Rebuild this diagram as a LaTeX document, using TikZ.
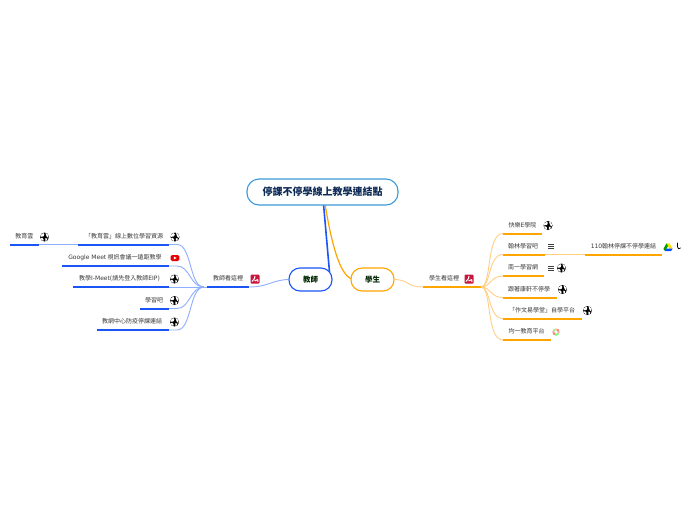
\documentclass[tikz,border=0pt]{standalone}
\usepackage{fontspec}
\setmainfont{Noto Sans CJK TC}
\newfontfamily\latinf{DejaVu Sans}
\definecolor{tblue}{HTML}{1A55F5}
\definecolor{tlight}{HTML}{8FAEFF}
\definecolor{sorange}{HTML}{FFA500}
\definecolor{slight}{HTML}{FFCF85}
\definecolor{rootblue}{HTML}{3A9AD9}
\definecolor{rootink}{HTML}{0E2A55}
\definecolor{iconred}{HTML}{C8173C}
\tikzset{
  lbl/.style={inner sep=0pt,font=\fontsize{6}{7}\selectfont,text=black!78},
  rootbox/.style={draw=rootblue,line width=1.1pt,rounded corners=12pt,fill=white,inner sep=0pt,minimum width=151pt,minimum height=26pt,font=\fontsize{10}{12}\selectfont\bfseries,text=rootink},
  mainbox/.style={line width=1.1pt,rounded corners=11pt,fill=white,inner sep=0pt,minimum width=43pt,minimum height=23pt,font=\fontsize{7.5}{9}\selectfont\bfseries,text=black!75!green!60!black},
  tline/.style={tblue,line width=2pt},
  sline/.style={sorange,line width=2pt},
  tcurve/.style={tlight,line width=.9pt},
  scurve/.style={slight,line width=.9pt},
  globe/.pic={
    \fill[black] (0,0) circle (4.5);
    \fill[white] (-3.9,-2) -- (-1.2,-3.9) -- (-.2,-2.6) -- (-1,-.6) -- (-3.9,-.2) -- cycle;
    \fill[white] (1,-3.9) -- (2.8,-3.2) -- (3.9,-1) -- (3.9,1) -- (2.2,-.4) -- cycle;
    \fill[white] (-3.9,1) -- (-2.2,.8) -- (-.9,2.4) -- (-1.2,3.9) -- (-3,2.8) -- cycle;
    \fill[white] (.9,1.2) -- (2.8,1.4) -- (2.4,3.2) -- (1,3.8) -- cycle;
  },
  redicon/.pic={
    \fill[iconred,rounded corners=1pt] (-4.5,-4.5) rectangle (4.5,4.5);
    \draw[white,line width=1pt] (-3,2.5) -- (-.5,-.5) -- (0,-3);
    \draw[white,line width=1pt] (-.5,2) -- (2.7,.6) -- (2.9,3);
  },
  yticon/.pic={
    \fill[red!90!black,rounded corners=1.5pt] (-4.3,-3) rectangle (4.3,3);
    \fill[white] (-1.2,-1.5) -- (1.6,0) -- (-1.2,1.5) -- cycle;
  },
  menuicon/.pic={
    \draw[black!75,line width=.55pt] (-3,-2.2) -- (3,-2.2) (-3,0) -- (3,0) (-3,2.2) -- (3,2.2);
  },
  driveicon/.pic={
    \fill[yellow!85!orange] (-1.6,-3.6) -- (1.6,-3.6) -- (4.6,1.6) -- (1.4,1.6) -- cycle;
    \fill[green!60!black] (-1.6,-3.6) -- (-4.6,2) -- (-3,4) -- (0,-1) -- cycle;
    \fill[blue!70!cyan] (-1.6,1.6) -- (4.6,1.6) -- (3,4) -- (-3,4) -- cycle;
  },
  flowericon/.pic={
    \foreach \a/\c in {45/green!45!white,135/red!55!white,225/green!45!white,315/red!55!white,0/red!35!white,90/green!55!white,180/red!35!white,270/orange!45!white}{
      \fill[\c] (\a:2.6) circle (1.4);
    }
    \fill[white] (0,0) circle (.8);
  },
  clipicon/.pic={
    \draw[black,line width=.7pt,line cap=round] (0,-3) -- (0,1) .. controls (0,3) and (2,3.2) .. (3,2);
  }
}
% name, x-left, x-right, y of line, text centre x, line style, text
\newcommand{\leaf}[7]{%
  \coordinate (#1-a) at (#2,#4);
  \coordinate (#1-b) at (#3,#4);
  \draw[#6] (#1-a) -- (#1-b);
  \node[lbl] (#1) at (#5,#4-8.5) {#7};
}
\begin{document}
\begin{tikzpicture}[x=1pt,y=-1pt]
\useasboundingbox (0,0) rectangle (696,520);
\fill[white] (0,0) rectangle (696,520);

% main connectors (under the boxes)
\coordinate (rootT) at (323.5,204);
\coordinate (rootS) at (325,204);
\coordinate (teachTop) at (329.5,272);
\coordinate (studLeft) at (352,279);
\draw[tblue,line width=1.6pt] (rootT) -- (teachTop);
\draw[sorange,line width=1.2pt] (rootS) .. controls (331,240) and (339,275) .. (studLeft);

\node[rootbox] (root) at (322.5,192) {停課不停學線上教學連結點};
\node[mainbox,draw=tblue] (teach) at (310.5,279.5) {教師};
\node[mainbox,draw=sorange] (stud) at (372.5,279.5) {學生};

% ---------- teacher side
\leaf{tmain}{207}{249}{287}{228}{tline}{教師看這裡}
\pic at (255,279) {redicon};
\draw[tcurve] (teach.west) .. controls (272,280) and (268,287) .. (tmain-b);
\coordinate (tfork) at (204,287);
\draw[tcurve] (tfork) -- (tmain-a);

\leaf{t1}{78}{169}{244.5}{124}{tline}{「教育雲」線上數位學習資源}
\leaf{t2}{62}{169}{266}{115}{tline}{{\latinf Google Meet} 視訊會議一遠距教學}
\leaf{t3}{73}{169}{287}{119.5}{tline}{教學{\latinf I-Meet(}請先登入教師{\latinf EIP)}}
\leaf{t4}{140}{169}{308.5}{154}{tline}{學習吧}
\leaf{t5}{97}{169}{330}{132}{tline}{教網中心防疫停課連結}
\leaf{t0}{10}{39}{244.5}{24.5}{tline}{教育雲}

\draw[tcurve] (t0-b) -- (t1-a);
\draw[tcurve] (t1-b) -- ++(8,0) .. controls (192,244.5) and (189,287) .. (tfork);
\draw[tcurve] (t2-b) -- ++(8,0) .. controls (190,266) and (190,287) .. (tfork);
\draw[tcurve] (t3-b) -- (tfork);
\draw[tcurve] (t4-b) -- ++(8,0) .. controls (190,308.5) and (190,287) .. (tfork);
\draw[tcurve] (t5-b) -- ++(8,0) .. controls (192,330) and (189,287) .. (tfork);

\pic at (44.5,237) {globe};
\pic at (175,237) {globe};
\pic at (175,258) {yticon};
\pic at (174.5,279) {globe};
\pic at (174.5,300.5) {globe};
\pic at (174.5,322) {globe};

% ---------- student side
\leaf{smain}{423}{481}{287}{444}{sline}{學生看這裡}
\pic at (469,279) {redicon};
\draw[scurve] (stud.east) .. controls (410,280) and (406,287) .. (smain-a);
\coordinate (sfork) at (481,287);

\leaf{s1}{503}{542}{233.5}{522.5}{sline}{快樂{\latinf E}學院}
\leaf{s2}{503}{545}{254.5}{523}{sline}{翰林學習吧}
\leaf{s3}{503}{544}{276}{523}{sline}{南一學習網}
\leaf{s4}{503}{557}{297.5}{529}{sline}{跟著康軒不停學}
\leaf{s5}{503}{581.5}{318.5}{542}{sline}{「作文易學堂」自學平台}
\leaf{s6}{503}{551}{340}{526.5}{sline}{均一教育平台}
\leaf{s7}{585}{662}{254.5}{623.5}{sline}{{\latinf 110}翰林停課不停學連結}

\draw[scurve] (s2-b) -- (s7-a);
\draw[scurve] (sfork) .. controls (492,287) and (486,233.5) .. (s1-a);
\draw[scurve] (sfork) .. controls (491,287) and (488,254.5) .. (s2-a);
\draw[scurve] (sfork) .. controls (491,287) and (490,276) .. (s3-a);
\draw[scurve] (sfork) .. controls (491,287) and (490,297.5) .. (s4-a);
\draw[scurve] (sfork) .. controls (491,287) and (488,318.5) .. (s5-a);
\draw[scurve] (sfork) .. controls (492,287) and (486,340) .. (s6-a);

\pic at (548,225.5) {globe};
\pic at (551,246.5) {menuicon};
\pic at (551,268) {menuicon};
\pic at (561.5,268) {globe};
\pic at (562.5,289.5) {globe};
\pic at (587.5,310.5) {globe};
\pic at (556,332) {flowericon};
\pic at (668,247) {driveicon};
\pic at (677.5,246) {clipicon};
\end{tikzpicture}
\end{document}
